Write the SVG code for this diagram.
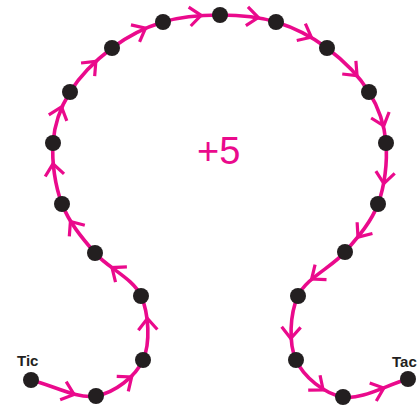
<svg xmlns="http://www.w3.org/2000/svg" xmlns:xlink="http://www.w3.org/1999/xlink" width="419" height="408" viewBox="0 0 419 408">
<style>
.line{fill:none;stroke:#ea0a8c;stroke-width:3.6;stroke-linecap:round;stroke-linejoin:round}
.arr{fill:none;stroke:#ea0a8c;stroke-width:3.2;stroke-linecap:butt;stroke-linejoin:miter}
.dot{fill:#231f20}
.lbl{font-family:"Liberation Sans",Arial,sans-serif;font-size:15px;font-weight:bold;fill:#231f20}
.big{font-family:"Liberation Sans",Arial,sans-serif;font-size:38px;fill:#ea0a8c}
</style>
<defs>
<path id="chev" d="M-1.5,-9.5 L10,0 L-1.5,9.5"/>
</defs>
<rect width="419" height="408" fill="#ffffff"/>
<g id="connectors">
<path class="line" d="M31,380 C52.7,385.3 77.3,399.3 96,396 C114.7,392.7 135.5,376.7 143,360 C150.5,343.3 149,313.8 141,296 C133,278.2 108.2,268.3 95,253 C81.8,237.7 69,222.3 62,204 C55,185.7 51.7,161.7 53,143 C54.3,124.3 60.2,107.8 70,92 C79.8,76.2 96.5,59.7 112,48 C127.5,36.3 145,27.5 163,22 C181,16.5 201.2,15 220,15 C238.8,15 258.2,16.5 276,22 C293.8,27.5 311.5,36.3 327,48 C342.5,59.7 359.2,76.2 369,92 C378.8,107.8 384.5,124.3 386,143 C387.5,161.7 384.8,185.8 378,204 C371.2,222.2 358.3,236.7 345,252 C331.7,267.3 306.2,278 298,296 C289.8,314 288.5,343.2 296,360 C303.5,376.8 324.3,393.8 343,397 C361.7,400.2 386.3,385 408,379"/>
<g class="arr">
<use xlink:href="#chev" transform="translate(64.6,391.2) rotate(18.5)"/>
<use xlink:href="#chev" transform="translate(123.7,383) rotate(-37.5)"/>
<use xlink:href="#chev" transform="translate(147.8,328.4) rotate(-92.1)"/>
<use xlink:href="#chev" transform="translate(120,273.6) rotate(-143.2)"/>
<use xlink:href="#chev" transform="translate(76.2,229.6) rotate(-125.4)"/>
<use xlink:href="#chev" transform="translate(54.4,173.7) rotate(-98.2)"/>
<use xlink:href="#chev" transform="translate(58.3,116.4) rotate(-71.3)"/>
<use xlink:href="#chev" transform="translate(88.9,68.5) rotate(-45.9)"/>
<use xlink:href="#chev" transform="translate(136.6,32.7) rotate(-26.9)"/>
<use xlink:href="#chev" transform="translate(191.2,16.4) rotate(-6.3)"/>
<use xlink:href="#chev" transform="translate(248.4,16.4) rotate(6.4)"/>
<use xlink:href="#chev" transform="translate(302.4,32.7) rotate(26.9)"/>
<use xlink:href="#chev" transform="translate(350.1,68.5) rotate(45.9)"/>
<use xlink:href="#chev" transform="translate(380.6,116.4) rotate(71.4)"/>
<use xlink:href="#chev" transform="translate(385.1,173.7) rotate(97.2)"/>
<use xlink:href="#chev" transform="translate(363.9,229.1) rotate(126.3)"/>
<use xlink:href="#chev" transform="translate(319.6,273) rotate(143)"/>
<use xlink:href="#chev" transform="translate(291.1,328.5) rotate(92)"/>
<use xlink:href="#chev" transform="translate(315.3,383.6) rotate(38.5)"/>
<use xlink:href="#chev" transform="translate(374.4,391.5) rotate(-20.3)"/>
</g>
</g>
<g id="tic"><circle class="dot" cx="31" cy="380" r="8"/><text class="lbl" x="17" y="366">Tic</text></g>
<g id="p2"><circle class="dot" cx="96" cy="396" r="8"/></g>
<g id="p3"><circle class="dot" cx="143" cy="360" r="8"/></g>
<g id="p4"><circle class="dot" cx="141" cy="296" r="8"/></g>
<g id="p5"><circle class="dot" cx="95" cy="253" r="8"/></g>
<g id="p6"><circle class="dot" cx="62" cy="204" r="8"/></g>
<g id="p7"><circle class="dot" cx="53" cy="143" r="8"/></g>
<g id="p8"><circle class="dot" cx="70" cy="92" r="8"/></g>
<g id="p9"><circle class="dot" cx="112" cy="48" r="8"/></g>
<g id="p10"><circle class="dot" cx="163" cy="22" r="8"/></g>
<g id="p11"><circle class="dot" cx="220" cy="15" r="8"/></g>
<g id="p12"><circle class="dot" cx="276" cy="22" r="8"/></g>
<g id="p13"><circle class="dot" cx="327" cy="48" r="8"/></g>
<g id="p14"><circle class="dot" cx="369" cy="92" r="8"/></g>
<g id="p15"><circle class="dot" cx="386" cy="143" r="8"/></g>
<g id="p16"><circle class="dot" cx="378" cy="204" r="8"/></g>
<g id="p17"><circle class="dot" cx="345" cy="252" r="8"/></g>
<g id="p18"><circle class="dot" cx="298" cy="296" r="8"/></g>
<g id="p19"><circle class="dot" cx="296" cy="360" r="8"/></g>
<g id="p20"><circle class="dot" cx="343" cy="397" r="8"/></g>
<g id="tac"><circle class="dot" cx="408" cy="379" r="8"/><text class="lbl" x="392" y="367">Tac</text></g>
<g id="label"><text class="big" x="197" y="164">+5</text></g>
</svg>
